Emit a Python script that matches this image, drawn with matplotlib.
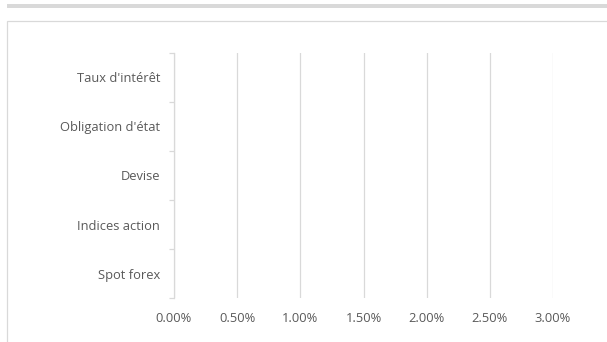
import numpy as np
import matplotlib.pyplot as plt
from matplotlib.ticker import FuncFormatter, FixedLocator
from matplotlib.patches import Rectangle

categories = ["Spot forex", "Indices action", "Devise", "Obligation d'état", "Taux d'intérêt"]
values = [0.0, 0.0, 0.0, 0.0, 0.0]
x_ticks = [0.0, 0.005, 0.01, 0.015, 0.02, 0.025, 0.03]

grey = "#d9d9d9"
text_col = "#595959"

plt.rcParams['font.family'] = ['Open Sans', 'DejaVu Sans']

fig = plt.figure(figsize=(6.07, 3.42), dpi=100)
W, H = 607, 342

# top band and chart frame
fig.patches.append(Rectangle((7 / W, 1 - 8 / H), 1 - 7 / W, 4 / H,
                             transform=fig.transFigure, color=grey, lw=0))
fig.patches.append(Rectangle((6.5 / W, -0.01), 1.0, 1 - 20.5 / H + 0.01,
                             transform=fig.transFigure, fill=False,
                             edgecolor=grey, lw=0.9))

ax = fig.add_axes([174 / W, 1 - 298 / H, (553 - 174) / W, (298 - 53) / H])
y = np.arange(len(categories))
ax.barh(y, values, height=0.6, color="#4472c4")

ax.set_xlim(0, 0.03)
ax.set_ylim(-0.5, len(categories) - 0.5)
ax.set_xticks(x_ticks)
ax.xaxis.set_major_formatter(FuncFormatter(lambda v, p: f"{v * 100:.2f}%"))
ax.set_yticks(y)
ax.set_yticklabels(categories)
ax.yaxis.set_minor_locator(FixedLocator(np.arange(-0.5, len(categories), 1.0)))

ax.grid(axis="x", color=grey, lw=0.9)
ax.set_axisbelow(True)
for s in ["top", "right", "bottom"]:
    ax.spines[s].set_visible(False)
ax.spines["left"].set_color(grey)
ax.spines["left"].set_linewidth(0.9)

ax.tick_params(axis="x", length=0, pad=10, labelsize=9.3, labelcolor=text_col)
ax.tick_params(axis="y", which="major", length=0, pad=10, labelsize=9.3, labelcolor=text_col)
ax.tick_params(axis="y", which="minor", length=3.6, width=0.9, color=grey)

fig.savefig("out.png", dpi=100)
